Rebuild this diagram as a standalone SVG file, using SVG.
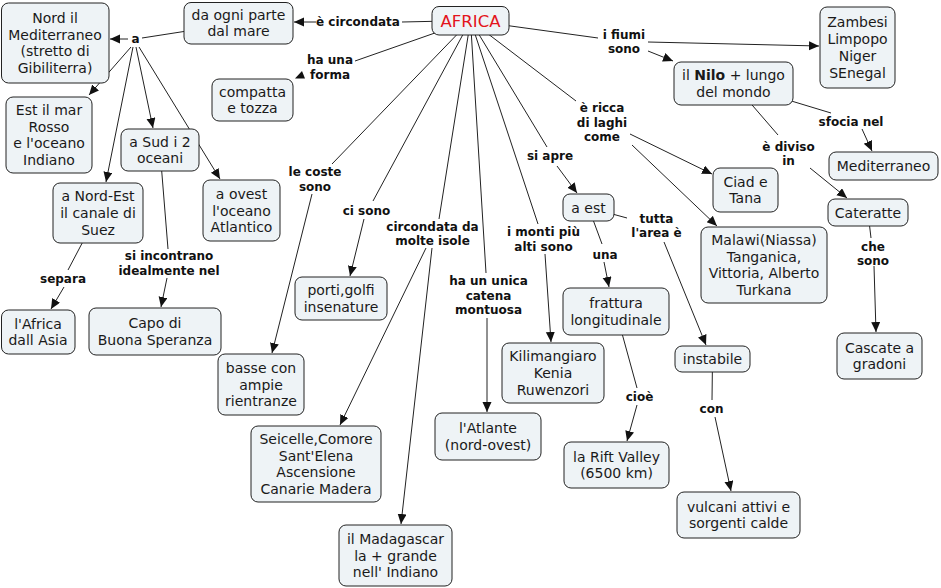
<svg xmlns="http://www.w3.org/2000/svg" width="941" height="588" viewBox="0 0 941 588">
<defs>
<marker id="arr" markerUnits="userSpaceOnUse" markerWidth="11" markerHeight="10" refX="10" refY="4.5" orient="auto">
<path d="M0,0 L10,4.5 L0,9 z" fill="#111"/>
</marker>
<style>
.bg{fill:#ffffff}
.n rect{fill:#eef3f6;stroke:#222;stroke-width:1}
.n text{font-family:"DejaVu Sans",Verdana,sans-serif;font-size:14px;fill:#1a1a1a;text-anchor:middle}
.lb text{font-family:"DejaVu Sans",Verdana,sans-serif;font-size:12px;font-weight:bold;fill:#111;text-anchor:middle}
.c line{stroke:#222;stroke-width:1;fill:none}
.c line.a{marker-end:url(#arr)}
</style>
</defs>
<rect class="bg" x="0" y="0" width="941" height="588"/>
<g id="connectors" class="c">
<line x1="470.5" y1="20.5" x2="402" y2="22"/>
<line class="a" x1="316" y1="22" x2="294" y2="22"/>
<line x1="238.5" y1="23" x2="142" y2="38"/>
<line class="a" x1="128" y1="39" x2="110" y2="39"/>
<line class="a" x1="131" y1="47" x2="89" y2="95"/>
<line class="a" x1="133" y1="47" x2="106" y2="182"/>
<line class="a" x1="136" y1="47" x2="153" y2="128"/>
<line class="a" x1="139" y1="47" x2="220" y2="179"/>
<line x1="470.5" y1="20.5" x2="355" y2="61"/>
<polygon points="295,78.5 305,78.5 302,71" fill="#111"/>
<line x1="470.5" y1="20.5" x2="598" y2="38"/>
<line class="a" x1="648" y1="42" x2="819" y2="46"/>
<line class="a" x1="648" y1="51" x2="673" y2="61"/>
<line x1="470.5" y1="20.5" x2="576" y2="101"/>
<line class="a" x1="630" y1="134" x2="712" y2="174"/>
<line class="a" x1="632" y1="145" x2="717" y2="226"/>
<line x1="470.5" y1="20.5" x2="547" y2="147"/>
<line class="a" x1="557" y1="166" x2="577" y2="193"/>
<line x1="470.5" y1="20.5" x2="332" y2="164"/>
<line class="a" x1="312" y1="194" x2="272" y2="353"/>
<line x1="470.5" y1="20.5" x2="373" y2="201"/>
<line class="a" x1="364" y1="219" x2="350" y2="276"/>
<line x1="470.5" y1="20.5" x2="439" y2="219"/>
<line class="a" x1="426" y1="248" x2="340" y2="425"/>
<line class="a" x1="432" y1="248" x2="401" y2="524"/>
<line x1="470.5" y1="20.5" x2="486" y2="273"/>
<line class="a" x1="487" y1="318" x2="487" y2="412"/>
<line x1="470.5" y1="20.5" x2="538" y2="224"/>
<line class="a" x1="545" y1="254" x2="551" y2="342"/>
<line x1="588.5" y1="207.5" x2="627" y2="218"/>
<line class="a" x1="664" y1="242" x2="706" y2="345"/>
<line x1="588.5" y1="207.5" x2="602" y2="244"/>
<line class="a" x1="604" y1="262" x2="609" y2="287"/>
<line x1="616" y1="311.5" x2="637" y2="388"/>
<line class="a" x1="637" y1="405" x2="627" y2="441"/>
<line x1="712.5" y1="359" x2="712" y2="400"/>
<line class="a" x1="715" y1="417" x2="731" y2="491"/>
<line x1="733.5" y1="83.5" x2="831" y2="113"/>
<line class="a" x1="862" y1="129" x2="872" y2="151"/>
<line x1="733.5" y1="83.5" x2="778" y2="135"/>
<line class="a" x1="810" y1="168" x2="847" y2="198"/>
<line x1="868" y1="212.5" x2="871" y2="238"/>
<line class="a" x1="874" y1="266" x2="876" y2="332"/>
<line x1="98" y1="213" x2="68" y2="270"/>
<line class="a" x1="64" y1="287" x2="51" y2="309"/>
<line x1="160" y1="150" x2="168" y2="249"/>
<line class="a" x1="167" y1="278" x2="161" y2="307"/>
</g>
<g id="labels" class="lb">
<text x="358" y="26.3">è circondata</text>
<text x="135.5" y="43.3">a</text>
<text x="330" y="64"><tspan x="330">ha una</tspan><tspan x="330" dy="14.5">forma</tspan></text>
<text x="624" y="38.5"><tspan x="624">i fiumi</tspan><tspan x="624" dy="14.5">sono</tspan></text>
<text x="602" y="112.3"><tspan x="602">è ricca</tspan><tspan x="602" dy="14.5">di laghi</tspan><tspan x="602" dy="14.5">come</tspan></text>
<text x="550" y="160.3">si apre</text>
<text x="315" y="176"><tspan x="315">le coste</tspan><tspan x="315" dy="14.5">sono</tspan></text>
<text x="366.5" y="215.3">ci sono</text>
<text x="432.5" y="230.5"><tspan x="432.5">circondata da</tspan><tspan x="432.5" dy="14.5">molte isole</tspan></text>
<text x="543.5" y="236"><tspan x="543.5">i monti più</tspan><tspan x="543.5" dy="14.5">alti sono</tspan></text>
<text x="488.5" y="285.3"><tspan x="488.5">ha un unica</tspan><tspan x="488.5" dy="14.5">catena</tspan><tspan x="488.5" dy="14.5">montuosa</tspan></text>
<text x="656.5" y="222.5"><tspan x="656.5">tutta</tspan><tspan x="656.5" dy="14.5">l'area è</tspan></text>
<text x="605" y="259.3">una</text>
<text x="63" y="283.3">separa</text>
<text x="169" y="260"><tspan x="169">si incontrano</tspan><tspan x="169" dy="14.5">idealmente nel</tspan></text>
<text x="788.5" y="150.5"><tspan x="788.5">è diviso</tspan><tspan x="788.5" dy="14.5">in</tspan></text>
<text x="851" y="126.3">sfocia nel</text>
<text x="873" y="250.5"><tspan x="873">che</tspan><tspan x="873" dy="14.5">sono</tspan></text>
<text x="639.5" y="401.3">cioè</text>
<text x="711.5" y="413.3">con</text>
</g>
<g id="n_africa" class="n"><rect x="432" y="6.5" width="77" height="28.5" rx="7"/><text x="470.5" y="26.5" style="font-size:16.5px;fill:#e3141c">AFRICA</text></g>
<g id="n_mare" class="n"><rect x="184" y="2.5" width="109" height="41.5" rx="7"/><text x="238.5" y="19.6"><tspan x="238.5">da ogni parte</tspan><tspan x="238.5" dy="16.8">dal mare</tspan></text></g>
<g id="n_nord" class="n"><rect x="1.5" y="3" width="107.5" height="80" rx="7"/><text x="55" y="22.8"><tspan x="55">Nord il</tspan><tspan x="55" dy="16.8">Mediterraneo</tspan><tspan x="55" dy="16.8">(stretto di</tspan><tspan x="55" dy="16.8">Gibiliterra)</tspan></text></g>
<g id="n_est" class="n"><rect x="6" y="97" width="86" height="76" rx="7"/><text x="49" y="114.8"><tspan x="49">Est il mar</tspan><tspan x="49" dy="16.8">Rosso</tspan><tspan x="49" dy="16.8">e l'oceano</tspan><tspan x="49" dy="16.8">Indiano</tspan></text></g>
<g id="n_sud" class="n"><rect x="121" y="129" width="78" height="42" rx="7"/><text x="160" y="146.6"><tspan x="160">a Sud i 2</tspan><tspan x="160" dy="16.8">oceani</tspan></text></g>
<g id="n_compatta" class="n"><rect x="212" y="79" width="81" height="42" rx="7"/><text x="252.5" y="96.6"><tspan x="252.5">compatta</tspan><tspan x="252.5" dy="16.8">e tozza</tspan></text></g>
<g id="n_nordest" class="n"><rect x="53" y="183" width="90" height="60" rx="7"/><text x="98" y="201.2"><tspan x="98">a Nord-Est</tspan><tspan x="98" dy="16.8">il canale di</tspan><tspan x="98" dy="16.8">Suez</tspan></text></g>
<g id="n_ovest" class="n"><rect x="203" y="180" width="77" height="61" rx="7"/><text x="241.5" y="198.7"><tspan x="241.5">a ovest</tspan><tspan x="241.5" dy="16.8">l'oceano</tspan><tspan x="241.5" dy="16.8">Atlantico</tspan></text></g>
<g id="n_asia" class="n"><rect x="1.5" y="310" width="73.5" height="44" rx="7"/><text x="38" y="328.6"><tspan x="38">l'Africa</tspan><tspan x="38" dy="16.8">dall Asia</tspan></text></g>
<g id="n_capo" class="n"><rect x="89" y="308" width="132" height="47" rx="7"/><text x="155" y="328.1"><tspan x="155">Capo di</tspan><tspan x="155" dy="16.8">Buona Speranza</tspan></text></g>
<g id="n_basse" class="n"><rect x="218" y="354" width="86" height="61" rx="7"/><text x="261" y="372.7"><tspan x="261">basse con</tspan><tspan x="261" dy="16.8">ampie</tspan><tspan x="261" dy="16.8">rientranze</tspan></text></g>
<g id="n_porti" class="n"><rect x="295" y="277" width="92" height="43" rx="7"/><text x="341" y="295.1"><tspan x="341">porti,golfi</tspan><tspan x="341" dy="16.8">insenature</tspan></text></g>
<g id="n_seicelle" class="n"><rect x="251" y="426" width="130" height="76" rx="7"/><text x="316" y="443.8"><tspan x="316">Seicelle,Comore</tspan><tspan x="316" dy="16.8">Sant'Elena</tspan><tspan x="316" dy="16.8">Ascensione</tspan><tspan x="316" dy="16.8">Canarie Madera</tspan></text></g>
<g id="n_madagascar" class="n"><rect x="339" y="525" width="113" height="61" rx="7"/><text x="395.5" y="543.7"><tspan x="395.5">il Madagascar</tspan><tspan x="395.5" dy="16.8">la + grande</tspan><tspan x="395.5" dy="16.8">nell' Indiano</tspan></text></g>
<g id="n_atlante" class="n"><rect x="435" y="413" width="106" height="47" rx="7"/><text x="488" y="433.1"><tspan x="488">l'Atlante</tspan><tspan x="488" dy="16.8">(nord-ovest)</tspan></text></g>
<g id="n_kili" class="n"><rect x="502" y="343" width="102" height="60" rx="7"/><text x="553" y="361.2"><tspan x="553">Kilimangiaro</tspan><tspan x="553" dy="16.8">Kenia</tspan><tspan x="553" dy="16.8">Ruwenzori</tspan></text></g>
<g id="n_aest" class="n"><rect x="563" y="194" width="51" height="27" rx="7"/><text x="588.5" y="212.5">a est</text></g>
<g id="n_frattura" class="n"><rect x="563" y="288" width="106" height="47" rx="7"/><text x="616" y="308.1"><tspan x="616">frattura</tspan><tspan x="616" dy="16.8">longitudinale</tspan></text></g>
<g id="n_rift" class="n"><rect x="564" y="442" width="105" height="46" rx="7"/><text x="616.5" y="461.6"><tspan x="616.5">la Rift Valley</tspan><tspan x="616.5" dy="16.8">(6500 km)</tspan></text></g>
<g id="n_instabile" class="n"><rect x="675" y="346" width="75" height="26" rx="7"/><text x="712.5" y="364">instabile</text></g>
<g id="n_vulcani" class="n"><rect x="677" y="492" width="123" height="46" rx="7"/><text x="738.5" y="511.6"><tspan x="738.5">vulcani attivi e</tspan><tspan x="738.5" dy="16.8">sorgenti calde</tspan></text></g>
<g id="n_malawi" class="n"><rect x="701" y="227" width="126" height="76" rx="7"/><text x="764" y="244.8"><tspan x="764">Malawi(Niassa)</tspan><tspan x="764" dy="16.8">Tanganica,</tspan><tspan x="764" dy="16.8">Vittoria, Alberto</tspan><tspan x="764" dy="16.8">Turkana</tspan></text></g>
<g id="n_ciad" class="n"><rect x="713" y="168" width="65" height="44" rx="7"/><text x="745.5" y="186.6"><tspan x="745.5">Ciad e</tspan><tspan x="745.5" dy="16.8">Tana</tspan></text></g>
<g id="n_cateratte" class="n"><rect x="828" y="199" width="80" height="27" rx="7"/><text x="868" y="217.5">Cateratte</text></g>
<g id="n_cascate" class="n"><rect x="837" y="333" width="85" height="46" rx="7"/><text x="879.5" y="352.6"><tspan x="879.5">Cascate a</tspan><tspan x="879.5" dy="16.8">gradoni</tspan></text></g>
<g id="n_medit" class="n"><rect x="829" y="152" width="109" height="28" rx="7"/><text x="883.5" y="171">Mediterraneo</text></g>
<g id="n_nilo" class="n"><rect x="674" y="62" width="119" height="43" rx="7"/><text x="733.5" y="80.1"><tspan x="733.5">il <tspan font-weight="bold">Nilo</tspan> + lungo</tspan><tspan x="733.5" dy="16.8">del mondo</tspan></text></g>
<g id="n_zambesi" class="n"><rect x="820" y="7" width="75" height="81" rx="7"/><text x="857.5" y="27.3"><tspan x="857.5">Zambesi</tspan><tspan x="857.5" dy="16.8">Limpopo</tspan><tspan x="857.5" dy="16.8">Niger</tspan><tspan x="857.5" dy="16.8">SEnegal</tspan></text></g>
</svg>
